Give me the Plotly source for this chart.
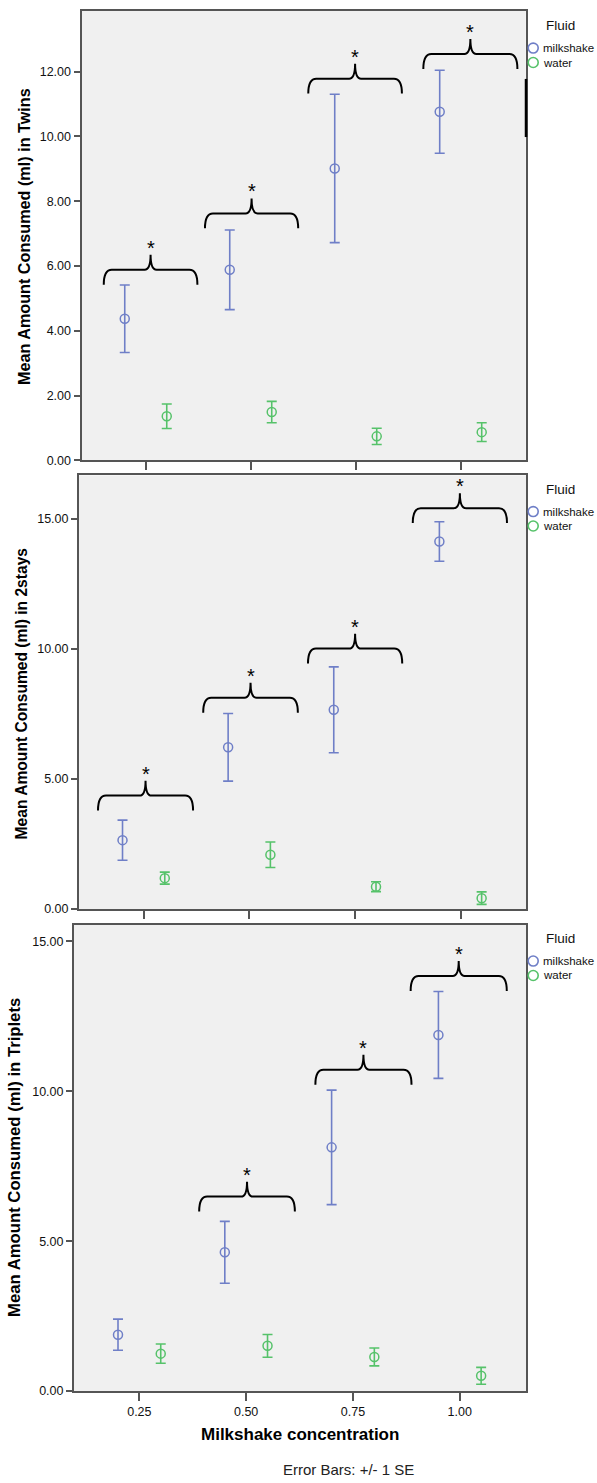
import plotly.graph_objects as go

# ---------------- data ----------------
concentration = [0.25, 0.50, 0.75, 1.00]
tick_labels = ["0.25", "0.50", "0.75", "1.00"]
fluids = ["milkshake", "water"]

twins_milkshake = [4.37, 5.88, 9.01, 10.76]
twins_milkshake_se = [1.04, 1.23, 2.29, 1.28]
twins_water = [1.36, 1.49, 0.74, 0.87]
twins_water_se = [0.38, 0.33, 0.25, 0.29]

stays_milkshake = [2.65, 6.22, 7.66, 14.13]
stays_milkshake_se = [0.77, 1.30, 1.65, 0.76]
stays_water = [1.19, 2.09, 0.86, 0.42]
stays_water_se = [0.23, 0.49, 0.19, 0.24]

triplets_milkshake = [1.88, 4.63, 8.13, 11.88]
triplets_milkshake_se = [0.52, 1.03, 1.91, 1.45]
triplets_water = [1.25, 1.51, 1.14, 0.51]
triplets_water_se = [0.32, 0.38, 0.30, 0.28]

# significance braces (left x, right x, base y) per panel
twins_brace_left = [0.150, 0.391, 0.637, 0.911]
twins_brace_right = [0.373, 0.613, 0.860, 1.135]
twins_brace_base = [5.42, 7.16, 11.32, 12.08]

stays_brace_left = [0.142, 0.391, 0.639, 0.887]
stays_brace_right = [0.367, 0.615, 0.862, 1.110]
stays_brace_base = [3.79, 7.55, 9.44, 14.84]

triplets_brace_left = [0.390, 0.662, 0.885]
triplets_brace_right = [0.614, 0.887, 1.110]
triplets_brace_base = [5.99, 10.22, 13.35]

# ---------------- layout helpers ----------------
W, H = 597, 1483
FONT = "Arial, Liberation Sans, sans-serif"
BLUE = "#6f7fc7"
GREEN = "#56c26a"
FRAME = "#555555"
XRANGE = [0.097, 1.155]
DODGE = 0.05


def px(p):
    return p / W


def py(p):
    return 1 - p / H


panels = [
    dict(name="Twins", ms=twins_milkshake, mse=twins_milkshake_se, wa=twins_water, wse=twins_water_se,
         bl=twins_brace_left, br=twins_brace_right, bb=twins_brace_base,
         xdom=[81.5, 525.8], ydom=[462.5, 10.7], yr=[0, 13.88], dtick=2,
         title_xy=(24.7, 237.5), title_size=16.2, legend_y=26, xlabels=False),
    dict(name="2stays", ms=stays_milkshake, mse=stays_milkshake_se, wa=stays_water, wse=stays_water_se,
         bl=stays_brace_left, br=stays_brace_right, bb=stays_brace_base,
         xdom=[79, 526], ydom=[913.4, 477.7], yr=[0, 16.67], dtick=5,
         title_xy=(21, 696.7), title_size=15.6, legend_y=491.7, xlabels=False),
    dict(name="Triplets", ms=triplets_milkshake, mse=triplets_milkshake_se, wa=triplets_water, wse=triplets_water_se,
         bl=triplets_brace_left, br=triplets_brace_right, bb=triplets_brace_base,
         xdom=[74, 526], ydom=[1397.7, 929], yr=[0, 15.56], dtick=5,
         title_xy=(15.2, 1163.3), title_size=16.7, legend_y=943.3, xlabels=True),
]

fig = go.Figure()
shapes = []
annotations = []

for i, p in enumerate(panels, start=1):
    xa = "x" if i == 1 else f"x{i}"
    ya = "y" if i == 1 else f"y{i}"
    xkey = "xaxis" if i == 1 else f"xaxis{i}"
    ykey = "yaxis" if i == 1 else f"yaxis{i}"

    ms_x = [c - DODGE for c in concentration]
    wa_x = [c + DODGE for c in concentration]
    fig.add_trace(go.Scatter(
        x=ms_x, y=p["ms"], name=fluids[0], mode="markers", showlegend=False,
        marker=dict(symbol="circle-open", size=9, color=BLUE, line=dict(width=1.5, color=BLUE)),
        error_y=dict(type="data", array=p["mse"], color=BLUE, thickness=1.6, width=5),
        xaxis=xa, yaxis=ya))
    fig.add_trace(go.Scatter(
        x=wa_x, y=p["wa"], name=fluids[1], mode="markers", showlegend=False,
        marker=dict(symbol="circle-open", size=9, color=GREEN, line=dict(width=1.5, color=GREEN)),
        error_y=dict(type="data", array=p["wse"], color=GREEN, thickness=1.6, width=5),
        xaxis=xa, yaxis=ya))

    xdom = [px(p["xdom"][0]), px(p["xdom"][1])]
    ydom = [py(p["ydom"][0]), py(p["ydom"][1])]
    fig.update_layout(**{
        xkey: dict(domain=xdom, range=XRANGE, anchor=ya, tickmode="array",
                   tickvals=concentration, ticktext=tick_labels, showticklabels=p["xlabels"],
                   ticks="outside", ticklen=8, tickwidth=2, tickcolor=FRAME,
                   showline=True, linecolor=FRAME, linewidth=2, mirror=True,
                   showgrid=False, zeroline=False,
                   tickfont=dict(family=FONT, size=12.5, color="#111")),
        ykey: dict(domain=ydom, range=p["yr"], anchor=xa, dtick=p["dtick"], tick0=0,
                   tickformat=".2f", ticks="outside", ticklen=6, tickwidth=2, tickcolor=FRAME,
                   showline=True, linecolor=FRAME, linewidth=2, mirror=True,
                   showgrid=False, zeroline=False,
                   tickfont=dict(family=FONT, size=12.5, color="#111")),
    })

    # pixel -> data scale for this panel
    ppu_y = (p["ydom"][0] - p["ydom"][1]) / (p["yr"][1] - p["yr"][0])
    ppu_x = (p["xdom"][1] - p["xdom"][0]) / (XRANGE[1] - XRANGE[0])
    h1 = 15 / ppu_y
    h2 = 30 / ppu_y
    dx1 = 8 / ppu_x
    dx2 = 6 / ppu_x
    for x0, x1, yb in zip(p["bl"], p["br"], p["bb"]):
        xm = (x0 + x1) / 2
        yh = yb + h1
        yt = yb + h2
        path = (f"M {x0},{yb} Q {x0},{yh} {x0 + dx1},{yh} L {xm - dx2},{yh} "
                f"Q {xm},{yh} {xm},{yt} Q {xm},{yh} {xm + dx2},{yh} "
                f"L {x1 - dx1},{yh} Q {x1},{yh} {x1},{yb}")
        shapes.append(dict(type="path", path=path, xref=xa, yref=ya,
                           line=dict(color="black", width=2)))
        annotations.append(dict(x=xm, y=yt, xref=xa, yref=ya, text="*", showarrow=False,
                                yanchor="bottom", yshift=-6,
                                font=dict(family=FONT, size=20, color="black")))

    # y-axis title
    tx, ty = p["title_xy"]
    annotations.append(dict(x=px(tx), y=py(ty), xref="paper", yref="paper",
                            text=f"Mean Amount Consumed (ml) in {p['name']}", textangle=-90,
                            showarrow=False, xanchor="center", yanchor="middle",
                            font=dict(family=FONT, size=p["title_size"], color="black", weight="bold")))

    # legend (Fluid)
    ly = p["legend_y"]
    annotations.append(dict(x=px(560), y=py(ly), xref="paper", yref="paper", text="Fluid",
                            showarrow=False, xanchor="center", yanchor="middle",
                            font=dict(family=FONT, size=13.5, color="#111")))
    for k, (lab, col) in enumerate(zip(fluids, [BLUE, GREEN])):
        cy = ly + 22.3 + 14.5 * k
        shapes.append(dict(type="circle", xref="paper", yref="paper",
                           x0=px(533.2 - 5), x1=px(533.2 + 5), y0=py(cy + 5), y1=py(cy - 5),
                           line=dict(color=col, width=1.6)))
        annotations.append(dict(x=px(541), y=py(cy), xref="paper", yref="paper", text=lab,
                                showarrow=False, xanchor="left", yanchor="middle",
                                font=dict(family=FONT, size=11.5, color="#111")))

# thick segment on right frame of first panel
shapes.append(dict(type="line", xref="paper", yref="paper", x0=px(526), x1=px(526),
                   y0=py(79.3), y1=py(137.7), line=dict(color="black", width=2.5)))

annotations.append(dict(x=px(299.5), y=py(1441.7), xref="paper", yref="paper",
                        text="Milkshake concentration", showarrow=False,
                        xanchor="center", yanchor="middle",
                        font=dict(family=FONT, size=17, color="black", weight="bold")))
annotations.append(dict(x=px(348), y=py(1476), xref="paper", yref="paper",
                        text="Error Bars: +/- 1 SE", showarrow=False,
                        xanchor="center", yanchor="middle",
                        font=dict(family=FONT, size=15, color="#222")))

fig.update_layout(
    width=W, height=H, margin=dict(l=0, r=0, t=0, b=0),
    paper_bgcolor="white", plot_bgcolor="#f0f0f0",
    shapes=shapes, annotations=annotations, showlegend=False,
)

fig.write_html("out.html", config={"displayModeBar": False},
               post_script="document.body.style.margin='0px';document.body.style.overflow='hidden';")
